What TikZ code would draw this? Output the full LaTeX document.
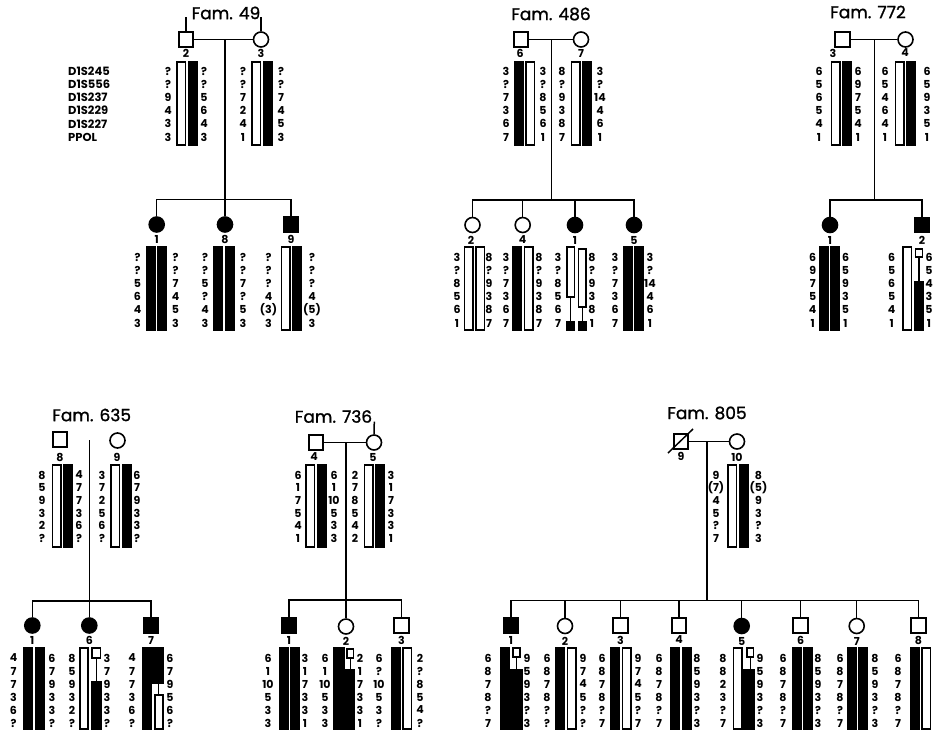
\documentclass[tikz,border=0pt]{standalone}
\usepackage{fontspec}
\setmainfont{Poppins}
\newfontfamily\ttlfont{Poppins}[FakeBold=1.2]
\tikzset{
  num/.style={font=\bfseries\fontsize{11}{11}\selectfont, inner sep=0pt, anchor=center},
  lab/.style={font=\bfseries\fontsize{11}{11}\selectfont, inner sep=0pt},
  ttl/.style={font=\ttlfont\fontsize{17}{17}\selectfont, inner sep=0pt},
  mk/.style={font=\bfseries\fontsize{11.5}{11.5}\selectfont, inner sep=0pt, anchor=west},
  sq/.style={draw, line width=1.6pt, minimum size=14.5pt, inner sep=0pt, fill=white},
  sqa/.style={sq, fill=black},
  ci/.style={draw, circle, line width=1.6pt, minimum size=15pt, inner sep=0pt, fill=white},
  cia/.style={ci, fill=black},
  op/.style={draw, line width=1.5pt, fill=white},
  fi/.style={draw, line width=1.5pt, fill=black},
  nob/.style={},
  ln/.style={line width=1.5pt},
  thn/.style={line width=1.1pt},
}
\def\rowA{71}\def\dyA{13.2}\def\topA{62}\def\botA{145}
\def\rowB{257}\def\dyB{13.2}\def\topB{247}\def\botB{330}
\def\rowC{475}\def\dyC{12.7}\def\topC{465}\def\botC{547}
\def\rowD{658}\def\dyD{13}\def\topD{648}\def\botD{729}
\newcommand\hnums[5]{%
  \foreach \v [count=\i] in {#5} {\node[num] (#1\i) at (#2,{#3+(\i-1)*#4}) {\v};}}
\newcommand\hpair[5]{%
  \path[#4] ({#1-10},#2) rectangle ({#1-1.3},#3);
  \path[#5] ({#1+1.3},#2) rectangle ({#1+10},#3);}
\newcommand\hap[9]{%
  \hpair{#2}{\csname top#5\endcsname}{\csname bot#5\endcsname}{#8}{#9}%
  \hnums{#1L}{#3}{\csname row#5\endcsname}{\csname dy#5\endcsname}{#6}%
  \hnums{#1R}{#4}{\csname row#5\endcsname}{\csname dy#5\endcsname}{#7}}
\begin{document}
\begin{tikzpicture}[x=1pt,y=-1pt]
\useasboundingbox (0,0) rectangle (933,732);

% ---------------- Fam. 49
\node[ttl] (t49) at (226,13) {Fam. 49};
\node[sq] (p49a) at (186,39.5) {};
\node[ci] (p49b) at (261,39.5) {};
\coordinate (u49a) at (186,17);
\coordinate (u49b) at (261,17);
\draw[ln] (u49a) -- (p49a.north);
\draw[ln] (u49b) -- (p49b.north);
\draw[ln] (p49a.east) -- (p49b.west);
\coordinate (d49) at (225,39.5);
\coordinate (s49) at (225,199.3);
\draw[ln] (d49) -- (s49);
\node[lab] (l49a) at (186,53) {2};
\node[lab] (l49b) at (261,53) {3};
\foreach \m [count=\i] in {D1S245,D1S556,D1S237,D1S229,D1S227,PPOL}
  \node[mk] (mk\i) at (68,{71+(\i-1)*13.2}) {\m};
\hap{h49a}{187}{168}{204}{A}{?,?,9,4,3,3}{?,?,5,6,4,3}{op}{fi}
\hap{h49b}{262}{243}{281}{A}{?,?,7,2,4,1}{?,?,7,4,5,3}{op}{fi}
\node[cia] (c49a) at (156.7,224.5) {};
\node[cia] (c49b) at (225,224.5) {};
\node[sqa] (c49c) at (291,224.5) {};
\coordinate (sl49) at (156.7,199.3);
\coordinate (sr49) at (291,199.3);
\draw[ln] (c49a.north) -- (sl49) -- (sr49) -- (c49c.north);
\draw[ln] (s49) -- (c49b.north);
\node[lab] (k49a) at (156.7,239) {1};
\node[lab] (k49b) at (225,239) {8};
\node[lab] (k49c) at (291,239) {9};
\hap{h49c}{156.5}{137.5}{175.5}{B}{?,?,5,6,4,3}{?,?,7,4,5,3}{fi}{fi}
\hap{h49d}{224}{205}{243}{B}{?,?,5,?,4,3}{?,?,7,?,5,3}{fi}{fi}
\hap{h49e}{291.5}{268.5}{312}{B}{?,?,?,4,{(3)},3}{?,?,?,4,{(5)},3}{op}{fi}

% ---------------- Fam. 486
\node[ttl] (t486) at (551,14) {Fam. 486};
\node[sq] (p486a) at (521,39.5) {};
\node[ci] (p486b) at (581,39.5) {};
\draw[ln] (p486a.east) -- (p486b.west);
\coordinate (d486) at (551.7,39.5);
\coordinate (s486) at (551.7,200);
\draw[ln] (d486) -- (s486);
\node[lab] (l486a) at (520,53) {6};
\node[lab] (l486b) at (581,53) {7};
\hap{h486a}{524.5}{506}{543}{A}{3,?,7,3,6,7}{3,?,8,5,6,1}{fi}{op}
\hap{h486b}{581.5}{562}{600}{A}{8,?,9,3,8,7}{3,?,14,4,6,1}{op}{fi}
\node[ci] (c486a) at (472.5,225) {};
\node[ci] (c486b) at (522.7,225) {};
\node[cia] (c486c) at (575,225) {};
\node[cia] (c486d) at (634,225) {};
\coordinate (sl486) at (472.5,200);
\coordinate (sr486) at (634,200);
\draw[ln] (c486a.north) -- (sl486) -- (sr486) -- (c486d.north);
\draw[ln] (c486b.north) -- (c486b.north |- sl486);
\draw[ln] (c486c.north) -- (c486c.north |- sl486);
\node[lab] (k486a) at (471,240) {2};
\node[lab] (k486b) at (522.7,240) {4};
\node[lab] (k486c) at (575,240) {1};
\node[lab] (k486d) at (634,240) {5};
\hap{h486c}{474.5}{457}{489}{B}{3,?,8,5,6,1}{8,?,9,3,8,7}{op}{op}
\hap{h486d}{523}{506}{539}{B}{3,?,7,3,6,7}{8,?,9,3,8,7}{fi}{op}
\hap{h486e}{576.5}{558}{592}{B}{3,?,8,5,6,7}{8,?,9,3,8,1}{nob}{nob}
\path[op] (567,247) rectangle (574.5,297);
\draw[thn] (570.75,297) -- (570.75,322);
\path[fi] (567,322) rectangle (574.5,330);
\path[op] (578.5,249) rectangle (586,307);
\draw[thn] (582.25,307) -- (582.25,322);
\path[fi] (578.5,322) rectangle (586,330);
\hap{h486f}{633.5}{615}{650}{B}{3,?,7,3,6,7}{3,?,14,4,6,1}{fi}{fi}

% ---------------- Fam. 772
\node[ttl] (t772) at (868,12) {Fam. 772};
\node[sq] (p772a) at (842.5,39.5) {};
\node[ci] (p772b) at (905.5,39.5) {};
\draw[ln] (p772a.east) -- (p772b.west);
\coordinate (d772) at (874.3,39.5);
\coordinate (s772) at (874.3,200);
\draw[ln] (d772) -- (s772);
\node[lab] (l772a) at (833,53) {3};
\node[lab] (l772b) at (905,53) {4};
\hap{h772a}{841.5}{819}{858}{A}{6,5,6,5,4,1}{6,9,7,5,4,1}{op}{fi}
\hap{h772b}{905.5}{885}{927}{A}{6,5,4,6,4,1}{6,5,9,3,5,1}{op}{fi}
\node[cia] (c772a) at (830,225) {};
\node[sqa] (c772b) at (922,225) {};
\coordinate (sl772) at (830,200);
\coordinate (sr772) at (922,200);
\draw[ln] (c772a.north) -- (sl772) -- (sr772) -- (c772b.north);
\node[lab] (k772a) at (830,240) {1};
\node[lab] (k772b) at (922,240) {2};
\hap{h772c}{829.5}{812.7}{845.5}{B}{6,9,7,5,4,1}{6,5,9,3,5,1}{fi}{fi}
\hap{h772d}{913}{891.7}{929}{B}{6,5,6,5,4,1}{6,5,4,3,5,1}{nob}{nob}
\path[op] (903,247) rectangle (911.5,330);
\path[op] (915.5,249) rectangle (922.5,257);
\draw[thn] (919,257) -- (919,282);
\path[fi] (914.5,282) rectangle (923.5,330);

% ---------------- Fam. 635
\node[ttl] (t635) at (91.7,415) {Fam. 635};
\node[sq] (p635a) at (60,439.5) {};
\node[ci] (p635b) at (117.5,440.5) {};
\coordinate (d635) at (89.3,440);
\coordinate (s635) at (89.3,601);
\draw[ln] (d635) -- (s635);
\node[lab] (l635a) at (60,457) {8};
\node[lab] (l635b) at (117,457) {9};
\hap{h635a}{62.5}{42}{79}{C}{8,5,9,3,2,?}{4,7,7,3,6,?}{op}{fi}
\hap{h635b}{121}{102}{137}{C}{3,7,2,5,6,?}{6,7,9,3,3,?}{op}{fi}
\node[cia] (c635a) at (32.3,625.5) {};
\node[cia] (c635b) at (89.3,625.5) {};
\node[sqa] (c635c) at (151,625.5) {};
\coordinate (sl635) at (32.3,601);
\coordinate (sr635) at (151,601);
\draw[ln] (c635a.north) -- (sl635) -- (sr635) -- (c635c.north);
\draw[ln] (s635) -- (c635b.north);
\node[lab] (k635a) at (32.3,640) {1};
\node[lab] (k635b) at (89.3,640) {6};
\node[lab] (k635c) at (151,640) {7};
\hap{h635c}{34}{13.5}{52}{D}{4,7,7,3,6,?}{6,7,9,3,3,?}{fi}{fi}
\hap{h635d}{90.5}{72}{107}{D}{8,5,9,3,2,?}{3,7,9,3,3,?}{nob}{nob}
\path[op] (80,648) rectangle (88,729);
\path[op] (92,648) rectangle (100.5,658);
\draw[thn] (96.25,658) -- (96.25,682);
\path[fi] (91.5,682) rectangle (101.5,729);
\hap{h635e}{152.5}{132}{170}{D}{4,7,7,3,6,?}{6,7,9,5,6,?}{fi}{nob}
\path[fi] (151,648) rectangle (163,683);
\draw[thn] (158.5,683) -- (158.5,695);
\path[op] (155,695) rectangle (163,729);

% ---------------- Fam. 736
\node[ttl] (t736) at (333.5,416.5) {Fam. 736};
\node[sq] (p736a) at (316,442.5) {};
\node[ci] (p736b) at (374,442.5) {};
\coordinate (u736) at (374.3,421.7);
\draw[ln] (u736) -- (p736b.north);
\draw[ln] (p736a.east) -- (p736b.west);
\coordinate (d736) at (346,442.5);
\coordinate (s736) at (346,600);
\draw[ln] (d736) -- (s736);
\node[lab] (l736a) at (314,457) {4};
\node[lab] (l736b) at (373,457) {5};
\hap{h736a}{316}{298}{334}{C}{6,1,7,5,4,1}{6,1,10,5,3,3}{op}{fi}
\hap{h736b}{374.5}{355}{391}{C}{2,7,8,5,4,2}{3,1,7,3,3,1}{op}{fi}
\node[sqa] (c736a) at (289,625.5) {};
\node[ci] (c736b) at (346,626.5) {};
\node[sq] (c736c) at (401.5,625.5) {};
\coordinate (sl736) at (289,600);
\coordinate (sr736) at (401.5,600);
\draw[ln] (c736a.north) -- (sl736) -- (sr736) -- (c736c.north);
\draw[ln] (s736) -- (c736b.north);
\node[lab] (k736a) at (289,640) {1};
\node[lab] (k736b) at (346,641) {2};
\node[lab] (k736c) at (401.5,640) {3};
\hap{h736c}{289.5}{268}{305}{D}{6,1,10,5,3,3}{3,1,7,3,3,1}{fi}{fi}
\hap{h736d}{344}{325}{360}{D}{6,1,10,5,3,3}{2,1,7,3,3,1}{nob}{nob}
\path[fi] (334,648) rectangle (344,729);
\path[op] (347,649) rectangle (353.5,658);
\draw[thn] (350.25,658) -- (350.25,670);
\path[fi] (343,670) rectangle (354,729);
\hap{h736e}{401.5}{379}{420}{D}{6,?,10,5,3,?}{2,?,8,5,4,?}{fi}{op}

% ---------------- Fam. 805
\node[ttl] (t805) at (707,413) {Fam. 805};
\node[sq] (p805a) at (681,441.5) {};
\node[ci] (p805b) at (737,441.5) {};
\coordinate (x805a) at (668,453);
\coordinate (x805b) at (693,429);
\draw[ln] (x805a) -- (x805b);
\draw[ln] (p805a.east) -- (p805b.west);
\coordinate (d805) at (707,441.5);
\coordinate (s805) at (707,600.7);
\draw[ln] (d805) -- (s805);
\node[lab] (l805a) at (681,456) {9};
\node[lab] (l805b) at (737,457) {10};
\hap{h805a}{738}{716}{758.5}{C}{9,{(7)},4,5,?,7}{8,{(5)},9,3,?,3}{op}{fi}
\node[sqa] (c805a) at (511,625.5) {};
\node[ci] (c805b) at (565,626) {};
\node[sq] (c805c) at (620.5,625.5) {};
\node[sq] (c805d) at (679,625.5) {};
\node[cia] (c805e) at (741.7,626) {};
\node[sq] (c805f) at (800.5,625.5) {};
\node[ci] (c805g) at (856.7,626) {};
\node[sq] (c805h) at (918.5,625.5) {};
\coordinate (sl805) at (511,600.7);
\coordinate (sr805) at (918.5,600.7);
\draw[ln] (c805a.north) -- (sl805) -- (sr805) -- (c805h.north);
\foreach \c in {c805b,c805c,c805d,c805e,c805f,c805g}
  \draw[ln] (\c.north) -- (\c.north |- sl805);
\node[lab] (k805a) at (511,640) {1};
\node[lab] (k805b) at (565,641) {2};
\node[lab] (k805c) at (620.5,640) {3};
\node[lab] (k805d) at (679,640) {4};
\node[lab] (k805e) at (741.7,641) {5};
\node[lab] (k805f) at (800.5,640) {6};
\node[lab] (k805g) at (856.7,641) {7};
\node[lab] (k805h) at (918.5,640) {8};
\hap{h805b}{510.5}{488}{527}{D}{6,8,7,8,?,7}{9,5,9,3,?,3}{fi}{nob}
\path[op] (513,648) rectangle (520,657);
\draw[thn] (516.5,657) -- (516.5,670);
\path[fi] (511,670) rectangle (522,729);
\hap{h805c}{566}{547}{583}{D}{6,8,7,8,?,?}{9,7,4,5,?,?}{fi}{op}
\hap{h805d}{621}{602}{638}{D}{6,8,7,8,?,7}{9,7,4,5,?,7}{fi}{op}
\hap{h805e}{681}{659}{697}{D}{6,8,7,8,?,7}{8,5,9,3,?,3}{fi}{fi}
\hap{h805f}{743.5}{723}{760}{D}{8,8,2,3,?,7}{9,5,9,3,?,3}{op}{nob}
\path[op] (747,648) rectangle (753.5,657);
\draw[thn] (750.25,657) -- (750.25,670);
\path[fi] (743,670) rectangle (754,729);
\hap{h805g}{802.5}{783}{818}{D}{6,8,7,8,?,7}{8,5,9,3,?,3}{fi}{fi}
\hap{h805h}{857.5}{840}{875}{D}{6,8,7,8,?,7}{8,5,9,3,?,3}{fi}{fi}
\hpair{920.5}{\topD}{\botD}{fi}{op}
\hnums{h805iL}{898}{\rowD}{\dyD}{6,8,7,8,?,7}
\end{tikzpicture}
\end{document}
